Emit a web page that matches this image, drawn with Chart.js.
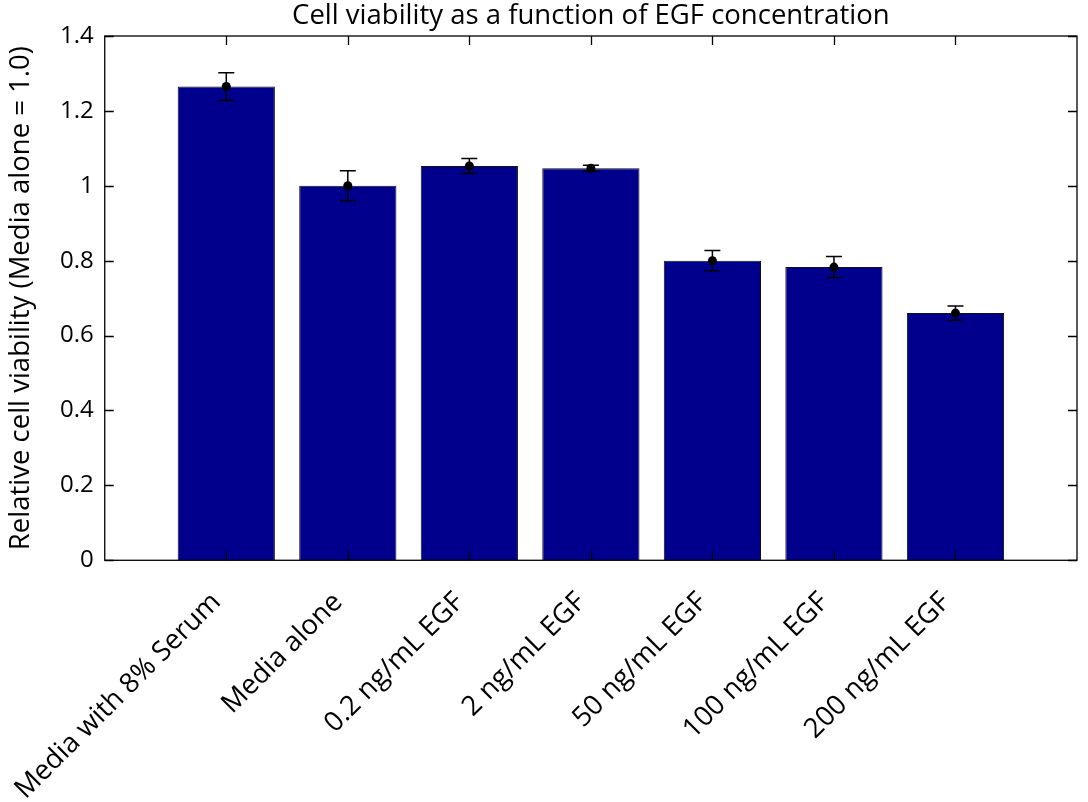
<!DOCTYPE html>
<html>
<head>
<meta charset="utf-8">
<title>Cell viability vs EGF</title>
<script src="https://cdn.jsdelivr.net/npm/chart.js@4/dist/chart.umd.min.js"></script>
<style>
  html,body{margin:0;padding:0;background:#fff;}
  #wrap{width:1088px;height:802px;position:relative;}
</style>
</head>
<body>
<div id="wrap"><canvas id="viab"></canvas></div>
<script>
(function () {
  'use strict';

  /* data */
  var labels = ['Media with 8% Serum','Media alone','0.2 ng/mL EGF','2 ng/mL EGF','50 ng/mL EGF','100 ng/mL EGF','200 ng/mL EGF'];
  var viability = [1.265, 1.0, 1.053, 1.047, 0.800, 0.783, 0.660];
  var sem = [0.037, 0.040, 0.020, 0.008, 0.027, 0.028, 0.019];
  var yTicks = [0, 0.2, 0.4, 0.6, 0.8, 1, 1.2, 1.4];

  var FONT = "'Open Sans', 'DejaVu Sans', sans-serif";
  var FS = 24;      // y tick numbers
  var FL = 27.5;    // titles + rotated category labels
  var TICK = 9;

  /* box + inward ticks on all four sides, matlab-ish */
  var boxPlugin = {
    id: 'box',
    afterDraw: function (chart) {
      var c = chart.ctx, a = chart.chartArea, xs = chart.scales.x, ys = chart.scales.y;
      c.save();
      c.strokeStyle = '#000'; c.lineWidth = 1.3;
      c.strokeRect(a.left, a.top, a.right - a.left, a.bottom - a.top);
      c.beginPath();
      labels.forEach(function (l, i) {
        var x = Math.round(xs.getPixelForValue(i + 1)) + 0.5;
        c.moveTo(x, a.bottom); c.lineTo(x, a.bottom - TICK);
        c.moveTo(x, a.top); c.lineTo(x, a.top + TICK);
      });
      yTicks.forEach(function (v) {
        var y = Math.round(ys.getPixelForValue(v)) + 0.5;
        c.moveTo(a.left, y); c.lineTo(a.left + TICK, y);
        c.moveTo(a.right, y); c.lineTo(a.right - TICK, y);
      });
      c.stroke();
      /* title, centred over the axes */
      c.fillStyle = '#000';
      c.font = FL + 'px ' + FONT;
      c.textAlign = 'center'; c.textBaseline = 'alphabetic';
      c.fillText('Cell viability as a function of EGF concentration', (a.left + a.right) / 2, a.top - 12);
      c.restore();
    }
  };

  /* error bars with mean dot */
  var errPlugin = {
    id: 'errbars',
    afterDatasetsDraw: function (chart) {
      var c = chart.ctx, xs = chart.scales.x, ys = chart.scales.y;
      c.save();
      c.strokeStyle = '#000'; c.fillStyle = '#000'; c.lineWidth = 1.5;
      viability.forEach(function (v, i) {
        var x = xs.getPixelForValue(i + 1);
        var yt = ys.getPixelForValue(v + sem[i]), yb = ys.getPixelForValue(v - sem[i]), ym = ys.getPixelForValue(v);
        c.beginPath();
        c.moveTo(x, yt); c.lineTo(x, yb);
        c.moveTo(x - 8, yt); c.lineTo(x + 8, yt);
        c.moveTo(x - 8, yb); c.lineTo(x + 8, yb);
        c.stroke();
        c.beginPath(); c.arc(x, ym, 4.5, 0, Math.PI * 2); c.fill();
      });
      c.restore();
    }
  };

  new Chart(document.getElementById('viab'), {
    type: 'bar',
    data: {
      datasets: [{
        data: viability.map(function (v, i) { return {x: i + 1, y: v}; }),
        backgroundColor: 'rgb(0,0,140)',
        borderColor: '#111',
        borderWidth: 1,
        categoryPercentage: 0.8,
        barPercentage: 1
      }]
    },
    options: {
      responsive: true, maintainAspectRatio: false, animation: false,
      layout: { padding: { top: 36, right: 11, left: 0, bottom: -20 } },
      plugins: { legend: { display: false }, tooltip: { enabled: false }, title: { display: false } },
      scales: {
        x: {
          type: 'linear', min: 0, max: 8, offset: false,
          afterBuildTicks: function (s) { s.ticks = labels.map(function (l, i) { return {value: i + 1}; }); },
          // rotated first label may hang past the y axis, don't let it push the plot right
          afterFit: function (s) { s.paddingLeft = 0; s.paddingRight = 0; },
          grid: { display: false, drawTicks: false, offset: false },
          border: { display: false },
          ticks: {
            autoSkip: false, minRotation: 45, maxRotation: 45, padding: 16, color: '#000',
            font: { family: FONT, size: FL },
            // trailing gap pulls the label end down-left of the tick like the original
            callback: function (v) { return labels[v - 1] + '\u2002'; }
          }
        },
        y: {
          min: 0, max: 1.4,
          afterBuildTicks: function (s) { s.ticks = yTicks.map(function (v) { return {value: v}; }); },
          grid: { display: false, drawTicks: false },
          border: { display: false },
          ticks: {
            padding: 11, color: '#000',
            font: { family: FONT, size: FS },
            callback: function (v) { return String(+v.toFixed(1)); }
          },
          title: {
            display: true, text: 'Relative cell viability (Media alone = 1.0)', color: '#000',
            font: { family: FONT, size: FL }, padding: { top: 5, bottom: 11 }
          }
        }
      }
    },
    plugins: [errPlugin, boxPlugin]
  });
})();
</script>
</body>
</html>
